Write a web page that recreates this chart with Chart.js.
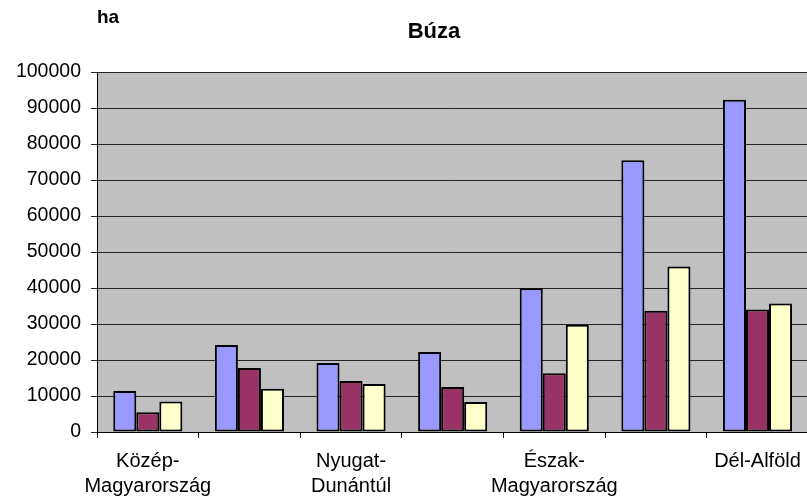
<!DOCTYPE html>
<html>
<head>
<meta charset="utf-8">
<script src="https://cdn.jsdelivr.net/npm/chart.js@4.4.0/dist/chart.umd.min.js"></script>
<style>
  html, body { margin: 0; padding: 0; background: #fff; overflow: hidden; }
  #wrap { width: 812px; height: 501px; }
</style>
</head>
<body>
<div id="wrap"><canvas id="buza_chart"></canvas></div>
<script>
        // Data
        const regions = [
            ['Közép-', 'Magyarország'],
            ['Közép-', 'Dunántúl'],
            ['Nyugat-', 'Dunántúl'],
            ['Dél-', 'Dunántúl'],
            ['Észak-', 'Magyarország'],
            ['Észak-', 'Alföld'],
            'Dél-Alföld'
        ];
        const series1 = [11400, 24200, 19200, 22200, 39900, 75500, 92300];
        const series2 = [5500, 17800, 14200, 12500, 16300, 33700, 34000];
        const series3 = [8500, 12000, 13300, 8300, 29800, 46000, 35700];
        const yTicks = [0, 10000, 20000, 30000, 40000, 50000, 60000, 70000, 80000, 90000, 100000];

        const font = 'Arial, "Liberation Sans", sans-serif';

        // plot area background + title texts
        const decor = {
            id: 'decor',
            beforeDraw(chart) {
                const { ctx, chartArea: a } = chart;
                ctx.save();
                ctx.fillStyle = '#C0C0C0';
                ctx.fillRect(a.left, a.top, a.right - a.left, a.bottom - a.top);
                ctx.restore();
            },
            afterDraw(chart) {
                const ctx = chart.ctx;
                ctx.save();
                ctx.fillStyle = '#000';
                ctx.textBaseline = 'alphabetic';
                ctx.font = 'bold 22px ' + font;
                ctx.textAlign = 'center';
                ctx.fillText('Búza', 434, 38);
                ctx.font = 'bold 19px ' + font;
                ctx.textAlign = 'left';
                ctx.fillText('ha', 97, 23);
                ctx.restore();
            }
        };

        const data = {
            labels: regions,
            datasets: [
                { label: '1', data: series1, backgroundColor: '#9999FF' },
                { label: '2', data: series2, backgroundColor: '#993366' },
                { label: '3', data: series3, backgroundColor: '#FFFFCC' }
            ].map(d => Object.assign(d, {
                borderColor: '#000',
                borderWidth: 2,
                borderSkipped: false,
                barPercentage: 1,
                categoryPercentage: 0.68
            }))
        };

        const config = {
            type: 'bar',
            data: data,
            options: {
                responsive: true,
                maintainAspectRatio: false,
                animation: false,
                layout: { padding: { top: 72, left: 0, right: 2, bottom: 0 } },
                plugins: {
                    legend: { display: false },
                    tooltip: { enabled: false }
                },
                scales: {
                    x: {
                        grid: {
                            offset: true,
                            drawOnChartArea: false,
                            tickLength: 6,
                            color: '#000'
                        },
                        border: { color: '#000', width: 1 },
                        ticks: {
                            autoSkip: false,
                            maxRotation: 0,
                            padding: 11,
                            color: '#000',
                            font: { family: font, size: 20, lineHeight: 1.25 },
                            callback: function (value, index) {
                                return index % 2 === 0 ? this.getLabelForValue(value) : '';
                            }
                        },
                        afterFit: s => { s.height = 69; }
                    },
                    y: {
                        min: 0,
                        max: 100000,
                        afterBuildTicks: s => { s.ticks = yTicks.map(v => ({ value: v })); },
                        grid: {
                            color: '#222',
                            tickLength: 6,
                            lineWidth: 1
                        },
                        border: { color: '#000', width: 1 },
                        ticks: {
                            padding: 10,
                            color: '#000',
                            font: { family: font, size: 19.5 },
                            callback: v => String(v)
                        },
                        afterFit: s => { s.width = 97; }
                    }
                }
            },
            plugins: [decor]
        };

        const buza_chart = new Chart(document.getElementById('buza_chart'), config);
</script>
</body>
</html>
